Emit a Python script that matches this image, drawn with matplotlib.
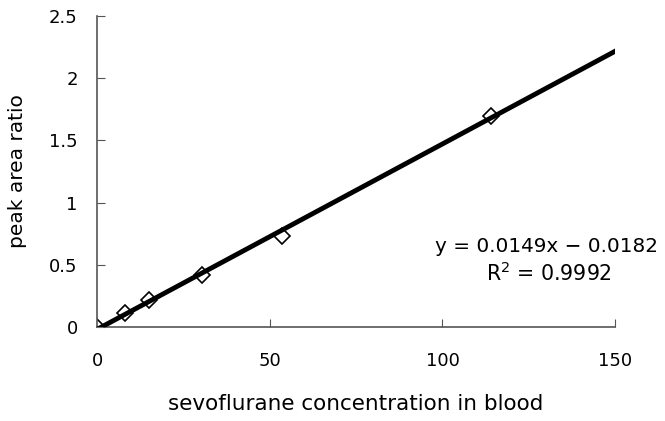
import matplotlib.pyplot as plt
import numpy as np

plt.rcParams['font.family'] = ['DejaVu Sans']

# measured points
conc = [0, 8, 15, 30.5, 53.5, 114]
ratio = [0.0, 0.11, 0.22, 0.42, 0.73, 1.70]

# fitted trend line
slope = 0.0149
intercept = -0.0182
fit_x = [0, 150]

fig = plt.figure(figsize=(6.65, 4.21), dpi=100)
ax = fig.add_axes([0.146, 0.223, 0.779, 0.739])

ax.plot(conc, ratio, linestyle='none', marker='D', markersize=8,
        markerfacecolor='white', markeredgecolor='black', markeredgewidth=1.2, zorder=2)
fx = np.array(fit_x)
ax.plot(fx, slope * fx + intercept, color='black', linewidth=3.5, zorder=3)

ax.set_xlim(0, 150)
ax.set_ylim(0, 2.5)
ax.set_xticks([0, 50, 100, 150])
ax.set_yticks([0, 0.5, 1, 1.5, 2, 2.5])
ax.set_yticklabels(['0', '0.5', '1', '1.5', '2', '2.5'])

for s in ['top', 'right']:
    ax.spines[s].set_visible(False)
for s in ['left', 'bottom']:
    ax.spines[s].set_color('#555555')
    ax.spines[s].set_linewidth(1.2)

ax.tick_params(axis='x', direction='in', length=6, pad=18, labelsize=13, color='#555555')
ax.tick_params(axis='y', direction='in', length=6, pad=14, labelsize=13, color='#555555')

ax.set_xlabel('sevoflurane concentration in blood', fontsize=15.5, va='center')
ax.xaxis.set_label_coords(0.5, -0.248)
ax.set_ylabel('peak area ratio', fontsize=14.5, va='center')
ax.yaxis.set_label_coords(-0.154, 0.5)

ax.text(162.5, 0.651, 'y = 0.0149x \u2212 0.0182', fontsize=14.4, ha='right', va='center', clip_on=False)
ax.text(149, 0.434, 'R$^2$ = 0.9992', fontsize=14.8, ha='right', va='center', clip_on=False)

fig.savefig('out.png', dpi=100)
